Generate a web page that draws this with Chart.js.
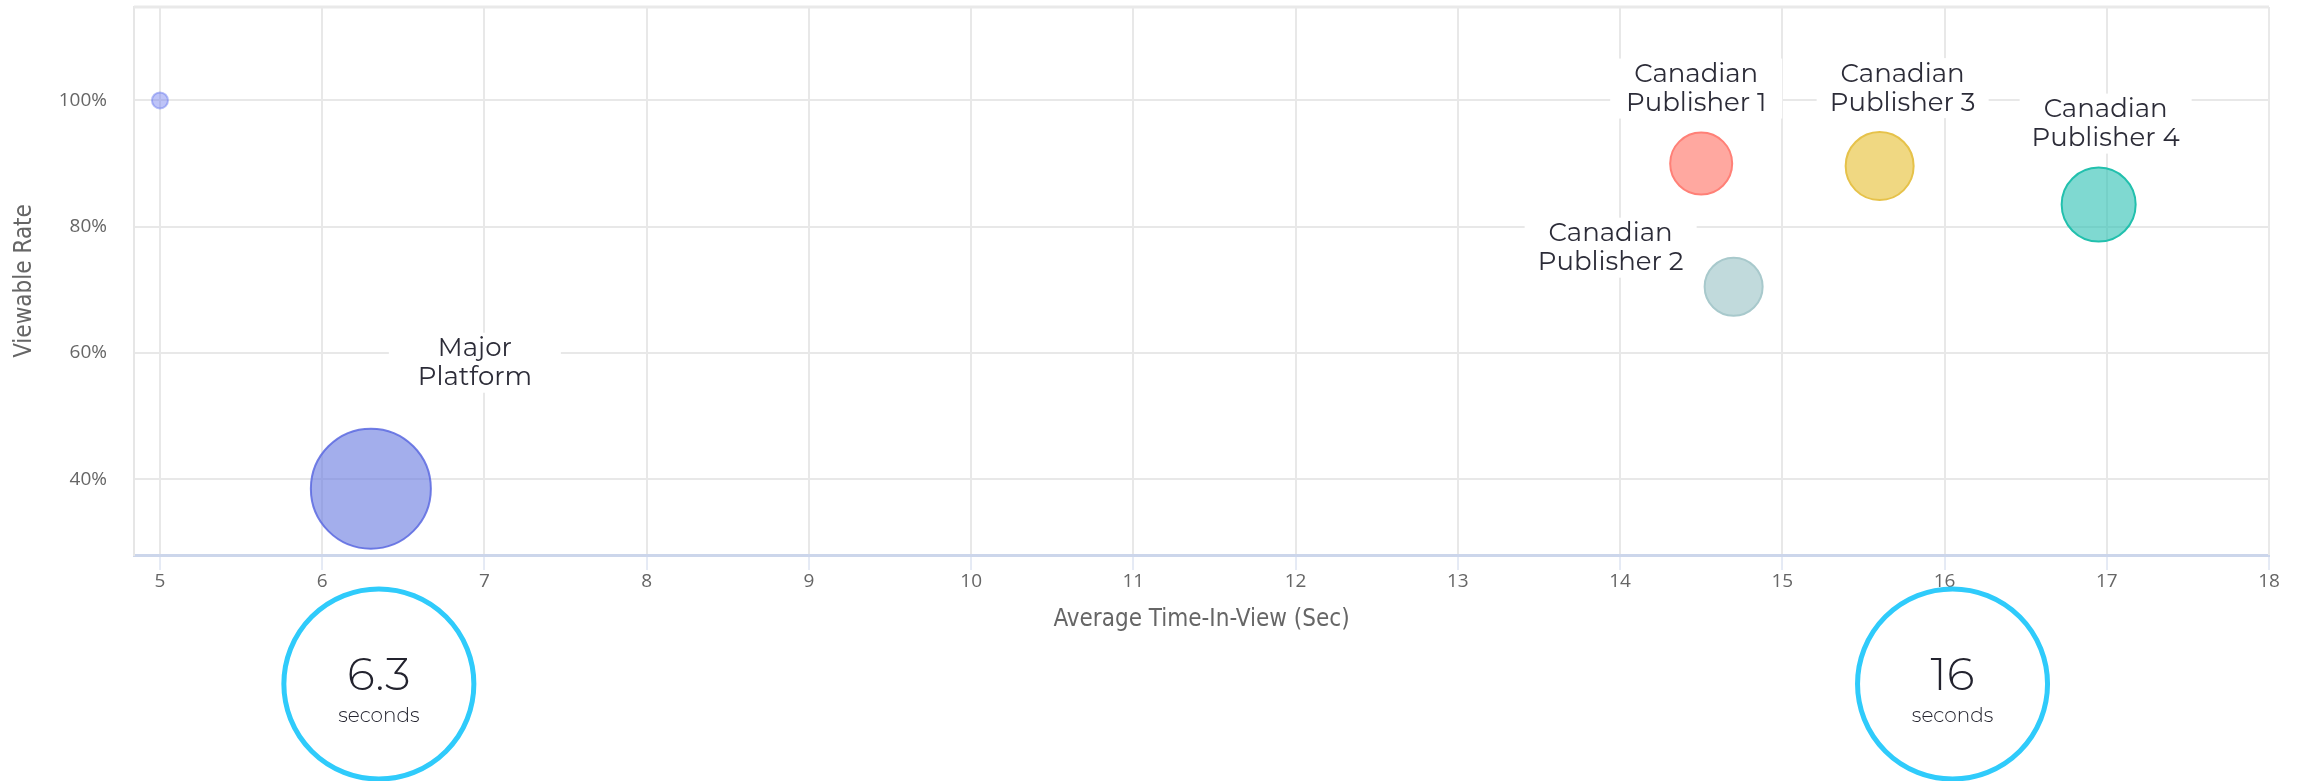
<!DOCTYPE html>
<html>
<head>
<meta charset="utf-8">
<script src="https://cdn.jsdelivr.net/npm/chart.js@4.4.1/dist/chart.umd.min.js"></script>
<style>
  html, body { margin: 0; padding: 0; background: #fff; }
</style>
</head>
<body>
<canvas id="myChart" width="2308" height="781"></canvas>
<script>
// data
var names = ["", "Major Platform", "Canadian Publisher 1", "Canadian Publisher 2", "Canadian Publisher 3", "Canadian Publisher 4"];
var timeInView = [5, 6.3, 14.5, 14.7, 15.6, 16.95];
var viewableRate = [100, 38.5, 90, 70.5, 89.6, 83.5];
var bubbleSize = [8, 60, 31, 29, 34, 37];
var xTicks = [5, 6, 7, 8, 9, 10, 11, 12, 13, 14, 15, 16, 17, 18];
var yTicks = [40, 60, 80, 100];
var summaryValues = [6.3, 16];

var fills = ["rgba(110,125,240,0.45)", "rgba(102,120,223,0.6)", "rgba(255,110,97,0.6)", "rgba(152,193,197,0.6)", "rgba(230,190,47,0.6)", "rgba(42,192,178,0.6)"];
var borders = ["rgba(110,125,240,0.5)", "rgba(90,105,225,0.85)", "#ff8077", "#a8c9cc", "#e6c24a", "#22c0ad"];
// where each label sits relative to its bubble
var labelOffsets = [null, [104, -126], [-5, -75], [-123, -39], [23, -78], [7, -81]];

var axisFont = "'Open Sans', sans-serif";
var titleFont = "'DejaVu Sans Condensed', 'Liberation Sans Narrow', 'Open Sans', sans-serif";
var labelFont = "Montserrat, 'Open Sans', sans-serif";

var plotBorder = {
  id: "plotBorder",
  beforeDatasetsDraw: function(chart) {
    var a = chart.chartArea, ctx = chart.ctx;
    ctx.save();
    ctx.strokeStyle = "#e9e9e9";
    ctx.lineWidth = 3;
    ctx.beginPath();
    ctx.moveTo(a.left, a.top);
    ctx.lineTo(a.right, a.top);
    ctx.stroke();
    ctx.lineWidth = 2;
    ctx.beginPath();
    ctx.moveTo(a.right, a.top);
    ctx.lineTo(a.right, a.bottom);
    ctx.stroke();
    ctx.restore();
  }
};

var pointLabels = {
  id: "pointLabels",
  afterDatasetsDraw: function(chart) {
    var ctx = chart.ctx;
    var meta = chart.getDatasetMeta(0);
    ctx.save();
    meta.data.forEach(function(el, i) {
      if (!names[i]) return;
      var off = labelOffsets[i];
      var cx = el.x + off[0], cy = el.y + off[1];
      var k = names[i].indexOf(" ");
      var l1 = names[i].slice(0, k), l2 = names[i].slice(k + 1);
      ctx.fillStyle = "#ffffff";
      ctx.fillRect(cx - 86, cy - 30, 172, 60);
      ctx.fillStyle = "#2c2c38";
      ctx.font = "26px " + labelFont;
      ctx.textAlign = "center";
      ctx.textBaseline = "middle";
      ctx.fillText(l1, cx, cy - 14);
      ctx.fillText(l2, cx, cy + 15);
    });
    ctx.restore();
  }
};

var summaryCircles = {
  id: "summaryCircles",
  afterDraw: function(chart) {
    var ctx = chart.ctx;
    var xs = chart.scales.x;
    ctx.save();
    summaryValues.forEach(function(v) {
      var cx = xs.getPixelForValue(v) + 8;
      var cy = 684;
      ctx.beginPath();
      ctx.arc(cx, cy, 95, 0, 2 * Math.PI);
      ctx.lineWidth = 5;
      ctx.strokeStyle = "#2fcbfb";
      ctx.stroke();
      ctx.fillStyle = "#23232e";
      ctx.textAlign = "center";
      ctx.textBaseline = "alphabetic";
      ctx.font = "300 46px " + labelFont;
      ctx.fillText(String(v), cx, 690);
      ctx.font = "300 20px " + labelFont;
      ctx.fillText("seconds", cx, 722);
    });
    ctx.restore();
  }
};

var points = timeInView.map(function(t, i) {
  return { x: t, y: viewableRate[i], r: bubbleSize[i] };
});

new Chart("myChart", {
  type: "bubble",
  data: {
    datasets: [{
      label: "Viewability",
      data: points,
      backgroundColor: fills,
      borderColor: borders,
      borderWidth: 2
    }]
  },
  options: {
    responsive: false,
    animation: false,
    layout: { autoPadding: false, padding: { left: 0, top: 7, right: 39, bottom: 135 } },
    plugins: {
      legend: { display: false },
      tooltip: { enabled: false }
    },
    scales: {
      x: {
        type: "linear",
        min: 4.84,
        max: 18,
        afterFit: function(scale) {
          scale.height = 91;
          scale.paddingLeft = 0;
          scale.paddingRight = 0;
        },
        afterBuildTicks: function(scale) {
          scale.ticks = xTicks.map(function(v) { return { value: v }; });
        },
        grid: { color: "#e8e8e8", lineWidth: 2, tickColor: "#ccd6eb", tickLength: 15, tickWidth: 1 },
        border: { color: "#ccd6eb", width: 3 },
        ticks: {
          autoSkip: false,
          padding: 0,
          color: "#666666",
          font: { family: axisFont, size: 19 },
          callback: function(v) { return v; }
        },
        title: {
          display: true,
          text: "Average Time-In-View (Sec)",
          color: "#666666",
          font: { family: titleFont, size: 24 },
          padding: { top: 0, bottom: 12 }
        }
      },
      y: {
        type: "linear",
        min: 28,
        max: 114.8,
        afterFit: function(scale) {
          scale.width = 134;
          scale.paddingTop = 0;
          scale.paddingBottom = 0;
        },
        afterBuildTicks: function(scale) {
          scale.ticks = yTicks.map(function(v) { return { value: v }; });
        },
        grid: { color: "#e8e8e8", lineWidth: 2, drawTicks: false },
        border: { color: "#e6e6e6", width: 2 },
        ticks: {
          padding: 27,
          color: "#666666",
          font: { family: axisFont, size: 19 },
          callback: function(v) { return v + "%"; }
        },
        title: {
          display: true,
          text: "Viewable Rate",
          color: "#666666",
          font: { family: titleFont, size: 24 },
          padding: { top: 10, bottom: 0 }
        }
      }
    }
  },
  plugins: [plotBorder, pointLabels, summaryCircles]
});
</script>
</body>
</html>
